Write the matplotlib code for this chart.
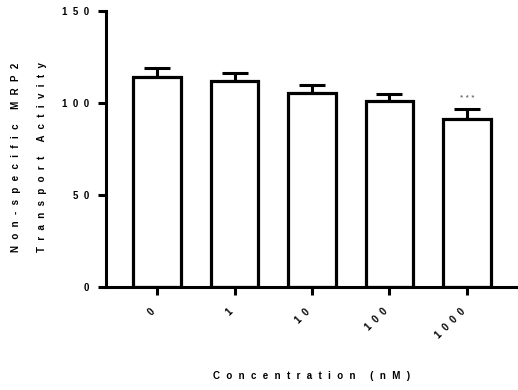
import numpy as np
import matplotlib.pyplot as plt

# Data
categories = ['0', '1', '10', '100', '1000']
means = [114.1, 112.1, 105.6, 101.3, 91.5]
sems = [4.7, 4.0, 4.2, 3.8, 5.1]
sig_labels = ['', '', '', '', '***']
yticks = [0, 50, 100, 150]


def spaced(s, gap='  '):
    # GraphPad style letter spacing
    words = [gap.join(w) for w in s.split(' ')]
    return (gap + '   ').join(words)


plt.rcParams['font.family'] = ['Liberation Sans', 'DejaVu Sans']
plt.rcParams['font.weight'] = 'bold'

fig = plt.figure(figsize=(5.18, 3.9), dpi=100)
ax = fig.add_axes([0.2046, 0.264, 0.7954, 0.708])

x = np.arange(len(categories))
ax.bar(x, means, width=0.61, color='white', edgecolor='black', linewidth=2.3, zorder=2)
ax.errorbar(x, means, yerr=[np.zeros(len(sems)), sems], fmt='none', ecolor='black',
            elinewidth=2.2, capsize=9.5, capthick=2.2, zorder=1)

for xi, m, s, lab in zip(x, means, sems, sig_labels):
    if lab:
        ax.text(xi, m + s + 4, spaced(lab, ' '), ha='center', va='bottom', fontsize=6,
                fontweight='normal', color='#444444')

ax.set_xlim(-0.66, 4.66)
ax.set_ylim(0, 150)
ax.set_yticks(yticks)
ax.set_yticklabels([spaced(str(t)) for t in yticks], fontsize=7, fontweight='bold')
ax.set_xticks(x)
ax.set_xticklabels([spaced(c) for c in categories], rotation=45, ha='right',
                   fontsize=7, fontweight='bold')

for side in ['top', 'right']:
    ax.spines[side].set_visible(False)
for side in ['left', 'bottom']:
    ax.spines[side].set_linewidth(2.2)
ax.tick_params(axis='both', width=2.2, length=6, direction='out')
ax.tick_params(axis='y', pad=6)
ax.tick_params(axis='x', pad=8)

wide = '  \u200a'
ax.set_ylabel(spaced('Non-specific MRP2', wide) + '\n\n' + spaced('Transport Activity', wide),
              fontsize=7, fontweight='bold', linespacing=1.35)
ax.yaxis.set_label_coords(-0.143, 0.47)
ax.set_xlabel(spaced('Concentration (nM)', wide), fontsize=7, fontweight='bold', labelpad=22)

fig.savefig('out.png', dpi=100)
